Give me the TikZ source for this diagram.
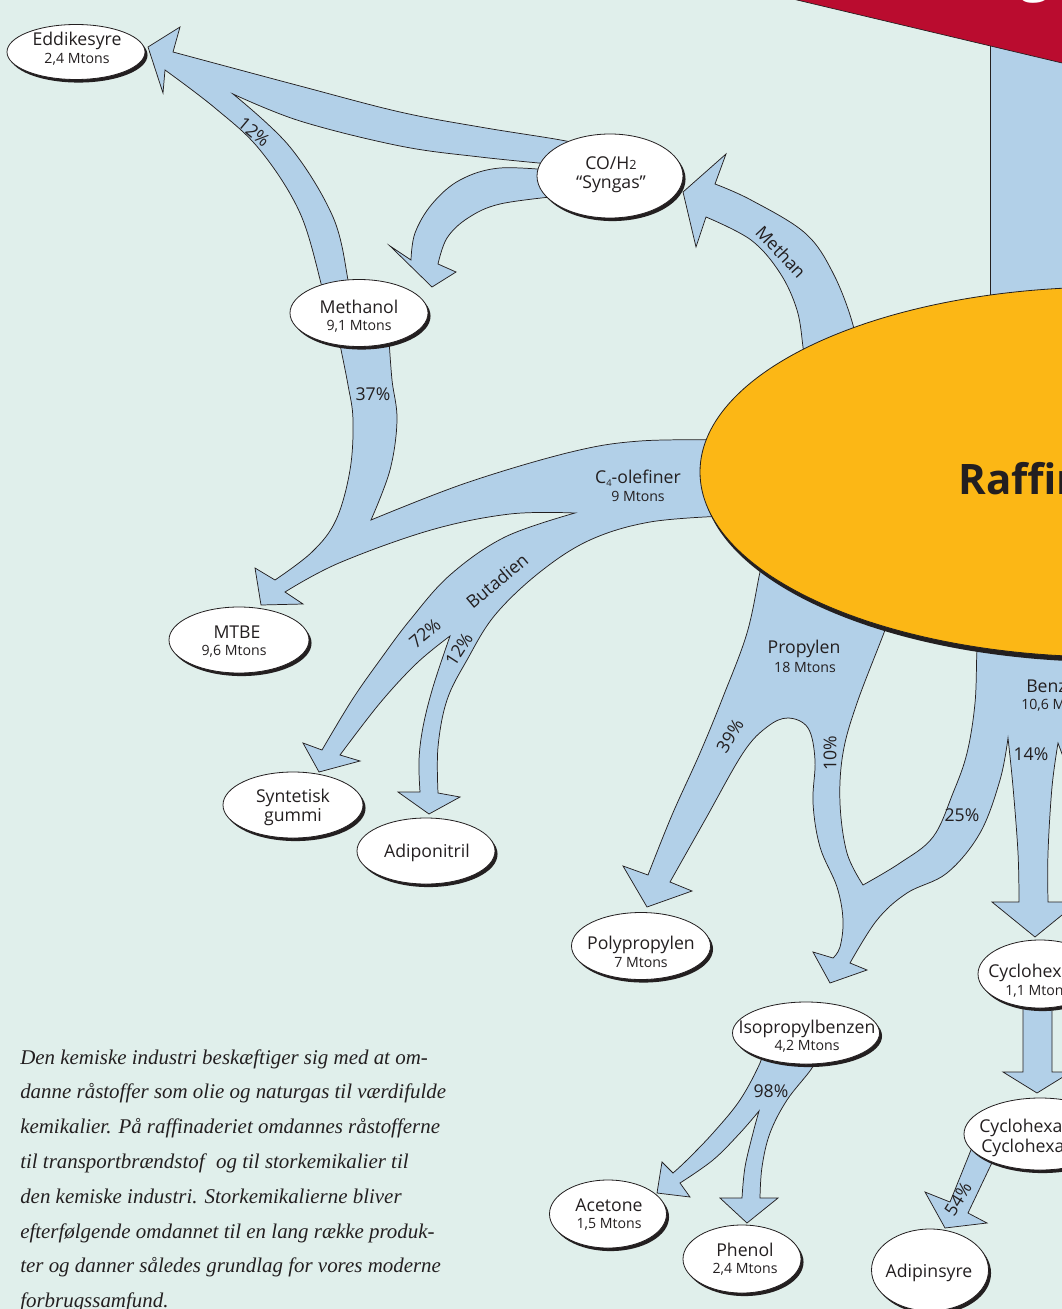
\documentclass[tikz,border=0pt]{standalone}
\usepackage{fontspec}
\setmainfont{Open Sans}
\newfontfamily\parafont{Liberation Serif}
\usetikzlibrary{shapes.geometric,shadows}
\definecolor{bg}{RGB}{224,239,235}
\definecolor{flow}{RGB}{178,208,232}
\definecolor{raff}{RGB}{252,183,21}
\definecolor{topred}{RGB}{186,12,47}
\definecolor{ink}{RGB}{35,31,32}
\newcommand\bigtxt{\fontsize{13.25}{15}\selectfont}
\newcommand\smalltxt{\fontsize{10.6}{12}\selectfont}
\newcommand\raftxt{\bfseries\fontsize{31.5}{36}\selectfont}
\newcommand\titletxt{\bfseries\fontsize{40}{44}\selectfont}
\newcommand\paratxt{\parafont\itshape\fontsize{15.7}{26}\selectfont}
\begin{document}
\begin{tikzpicture}[x=0.75pt,y=-0.75pt,
  flowshape/.style={fill=flow,draw=ink,line width=0.55pt,line join=miter,miter limit=25},
  prod/.style={ellipse,draw=ink,fill=white,line width=0.6pt,inner sep=0pt,
    drop shadow={shadow xshift=1.9pt,shadow yshift=-2.3pt,fill=ink,opacity=1}},
  bigt/.style={inner sep=0pt,anchor=base,text=ink,font=\bigtxt},
  smallt/.style={inner sep=0pt,anchor=base,text=ink,font=\smalltxt},
  flowlbl/.style={inner sep=0pt,text=ink,font=\bigtxt},
  paraline/.style={inner sep=0pt,anchor=base west,text=ink,font=\paratxt}]
\useasboundingbox (0,0) rectangle (1062,1309);
\clip (0,0) rectangle (1062,1309);
\fill[bg] (-5,-5) rectangle (1070,1315);

% top right bands
\fill[flow] (990,20) rectangle (1100,420);
\draw[ink,line width=0.6pt] (990,40) -- (990,420);
\fill[topred] (785,-10) -- (1100,-10) -- (1100,72) -- (785,-2.85) -- cycle;
\draw[ink,line width=0.5pt] (785,-2.85) -- (1100,72);
\node[text=white,font=\titletxt,anchor=base,inner sep=0pt] (titleg) at (1036,-9) {g};

% S1: Syngas + Methanol -> Eddikesyre
\filldraw[flowshape]
  plot[smooth,tension=0.6] coordinates {(585,145) (555,139) (480,127) (400,112) (300,86) (173,52)}
  -- (180,27) -- (148,47) -- (163,93) -- (165,70)
  -- plot[smooth,tension=0.6] coordinates {(165,70) (215,108) (260,150) (300,213) (322,287) (325,300)}
  -- (346,300)
  -- plot[smooth,tension=0.6] coordinates {(348,290) (348,280) (333,217) (290,147) (233,94)}
  -- plot[smooth,tension=0.6] coordinates {(233,94) (300,121) (400,146) (480,157) (560,165)}
  -- cycle;

% S2: Syngas -> Methanol
\filldraw[flowshape]
  plot[smooth,tension=0.6] coordinates {(560,171) (500,168) (460,180) (432,204) (415,233) (411,260)}
  -- (390,246) -- (432,287) -- (456,272) -- (438,264)
  -- plot[smooth,tension=0.6] coordinates {(438,264) (447,238) (468,218) (500,204) (560,196)}
  -- cycle;

% S3: Methan
\filldraw[flowshape]
  plot[smooth,tension=0.6] coordinates {(805,365) (803,347) (797,310) (780,273) (751,240) (706,217)}
  -- (696,247) -- (683,192) -- (726,154) -- (715,184)
  -- plot[smooth,tension=0.6] coordinates {(715,184) (751,200) (805,233) (833,273) (853,325) (858,365)}
  -- cycle;

% S4: C4-olefiner + Methanol 37%
\filldraw[flowshape]
  plot[smooth,tension=0.6] coordinates {(339,340) (348,385) (353,420) (350,470) (336,520) (312,552) (275,580)}
  -- (255,568) -- (261,605) -- (303,604) -- (285,592)
  -- plot[smooth,tension=0.6] coordinates {(285,592) (339,563) (431,530) (510,514) (575,513)}
  -- plot[smooth,tension=0.6] coordinates {(575,513) (505,537) (450,575) (410,620) (380,660) (352,700) (322,750)}
  -- (303,743) -- (319,772) -- (360,761) -- (340,755)
  -- plot[smooth,tension=0.6] coordinates {(340,755) (380,703) (417,663) (450,636)}
  -- plot[smooth,tension=0.6] coordinates {(450,636) (433,687) (423,727) (419,760) (420,792)}
  -- (398,792) -- (429,814) -- (460,797) -- (438,793)
  -- plot[smooth,tension=0.6] coordinates {(438,793) (438,747) (447,700) (467,660) (495,615) (540,572) (590,540) (650,522) (725,516)}
  -- (725,440)
  -- plot[smooth,tension=0.6] coordinates {(725,440) (640,441) (571,452) (466,483) (371,520)}
  -- plot[smooth,tension=0.6] coordinates {(371,520) (390,470) (397,420) (392,380) (389,340)}
  -- cycle;

% S5: Propylen + Benzen
\filldraw[flowshape]
  plot[smooth,tension=0.6] coordinates {(765,555) (760,572) (747,633) (723,697) (700,753) (672,815) (648,875)}
  -- (623,866) -- (647,907) -- (692,891) -- (670,882)
  -- plot[smooth,tension=0.6] coordinates {(670,882) (705,820) (743,753) (767,727) (788,718) (808,728) (815,760) (813,803) (820,847) (837,887) (843,920) (840,947) (833,958)}
  -- (813,952) -- (830,983) -- (867,970) -- (850,963)
  -- plot[smooth,tension=0.6] coordinates {(850,963) (877,920) (907,893) (947,873) (980,833) (1000,780) (1008,738)}
  -- plot[smooth,tension=0.6] coordinates {(1008,738) (1013,787) (1018,853) (1019,902)}
  -- (992,902) -- (1035,937) -- (1078,902) -- (1048,902)
  -- plot[smooth,tension=0.6] coordinates {(1048,902) (1048,853) (1052,787) (1058,743)}
  -- (1090,830) -- (1120,830) -- (1120,600) -- (980,600)
  -- plot[smooth,tension=0.6] coordinates {(980,630) (977,650) (975,703) (967,753) (953,793) (933,837) (900,863) (863,885)}
  -- plot[smooth,tension=0.6] coordinates {(863,885) (847,853) (840,803) (843,753) (857,703) (885,630) (890,612)}
  -- cycle;

% S6: Isopropylbenzen -> Acetone, Phenol
\filldraw[flowshape]
  plot[smooth,tension=0.6] coordinates {(762,1050) (760,1063) (740,1100) (713,1133) (687,1160) (673,1173)}
  -- (662,1162) -- (657,1193) -- (690,1197) -- (680,1183)
  -- plot[smooth,tension=0.6] coordinates {(680,1183) (713,1160) (740,1133) (759,1111)}
  -- plot[smooth,tension=0.6] coordinates {(759,1111) (753,1133) (745,1167) (742,1198)}
  -- (720,1198) -- (747,1223) -- (778,1198) -- (760,1198)
  -- plot[smooth,tension=0.6] coordinates {(760,1198) (762,1167) (770,1133) (787,1100) (812,1068) (815,1055)}
  -- cycle;

% S7: Cyclohexan -> Cyclohexanol
\filldraw[flowshape] (1023,1000) -- (1023,1072) -- (1003,1072) -- (1037,1093) -- (1071,1072) -- (1052,1072) -- (1052,1000) -- cycle;

% S8: Cyclohexanol -> Adipinsyre
\filldraw[flowshape] (975,1140) -- (950,1202) -- (925,1192) -- (945,1228) -- (987,1223) -- (968,1213) -- (998,1150) -- cycle;

% Raffinaderi
\node[ellipse,fill=raff,draw=ink,line width=0.6pt,inner sep=0pt,minimum width=615pt,minimum height=277.5pt,
  drop shadow={shadow xshift=1.5pt,shadow yshift=-3.8pt,fill=ink,opacity=1}] (raff) at (1110,472) {};
\node[inner sep=0pt,anchor=base west,text=ink,font=\raftxt] (raftext) at (958,494) {Raffinaderi};

% product ellipses
\node[prod,minimum width=103.5pt,minimum height=41.25pt] (eddik) at (76,52) {};
\node[prod,minimum width=109.5pt,minimum height=63pt] (syngas) at (610,176) {};
\node[prod,minimum width=103.5pt,minimum height=50.25pt] (methanol) at (359,313) {};
\node[prod,minimum width=105pt,minimum height=49.5pt] (mtbe) at (239,640) {};
\node[prod,minimum width=105pt,minimum height=49.5pt] (gummi) at (293,805) {};
\node[prod,minimum width=103.5pt,minimum height=49.5pt] (adipo) at (426,851) {};
\node[prod,minimum width=104.25pt,minimum height=50.25pt] (polyp) at (641,946) {};
\node[prod,minimum width=110.25pt,minimum height=46.5pt] (isop) at (806,1033) {};
\node[prod,minimum width=87.75pt,minimum height=51pt] (acetone) at (608,1214) {};
\node[prod,minimum width=88.5pt,minimum height=51pt] (phenol) at (742,1259) {};
\node[prod,minimum width=87.75pt,minimum height=61.5pt] (adipin) at (930,1270) {};
\node[prod,minimum width=93pt,minimum height=51pt] (cyclo) at (1040,974) {};
\node[prod,minimum width=114pt,minimum height=54pt] (cycloal) at (1040,1134) {};

% product texts
\node[bigt] (eddikA) at (77,46) {Eddikesyre};
\node[smallt] (eddikB) at (77,64) {2,4 Mtons};
\node[bigt] (syngasA) at (611,170) {CO/H{\fontsize{9.5}{9.5}\selectfont 2}};
\node[bigt] (syngasB) at (611,189) {“Syngas”};
\node[bigt] (methA) at (359,313) {Methanol};
\node[smallt] (methB) at (359,330) {9,1 Mtons};
\node[bigt] (mtbeA) at (237,638) {MTBE};
\node[smallt] (mtbeB) at (234,655) {9,6 Mtons};
\node[bigt] (gummiA) at (293,802) {Syntetisk};
\node[bigt] (gummiB) at (293,821) {gummi};
\node[bigt] (adipoA) at (427,857) {Adiponitril};
\node[bigt] (polypA) at (641,949) {Polypropylen};
\node[smallt] (polypB) at (641,967) {7 Mtons};
\node[bigt] (isopA) at (807,1033) {Isopropylbenzen};
\node[smallt] (isopB) at (807,1050) {4,2 Mtons};
\node[bigt] (acetA) at (609,1211) {Acetone};
\node[smallt] (acetB) at (609,1228) {1,5 Mtons};
\node[bigt] (phenA) at (745,1256) {Phenol};
\node[smallt] (phenB) at (745,1273) {2,4 Mtons};
\node[bigt] (adipinA) at (929,1277) {Adipinsyre};
\node[bigt,anchor=base west] (cycloA) at (988,977) {Cyclohexan};
\node[smallt,anchor=base west] (cycloB) at (1005,995) {1,1 Mtons};
\node[bigt,anchor=base west] (cycloalA) at (979,1132) {Cyclohexanol};
\node[bigt,anchor=base west] (cycloalB) at (981,1152) {Cyclohexanon};

% flow labels
\node[flowlbl,rotate=-40] (l12a) at (254,132) {12\%};
\node[flowlbl] (l37) at (373,394) {37\%};
\node[flowlbl,rotate=-47] (lmethan) at (781,252) {Methan};
\node[bigt] (lc4a) at (638,483) {C\raisebox{-0.35ex}{\fontsize{7}{7}\selectfont 4}-olefiner};
\node[smallt] (lc4b) at (638,501) {9 Mtons};
\node[flowlbl,rotate=40] (lbut) at (497,581) {Butadien};
\node[flowlbl,rotate=40] (l72) at (425,633) {72\%};
\node[flowlbl,rotate=57] (l12b) at (459,649) {12\%};
\node[bigt] (lpropA) at (804,653) {Propylen};
\node[smallt] (lpropB) at (805,672) {18 Mtons};
\node[flowlbl,rotate=58] (l39) at (730,736) {39\%};
\node[flowlbl,rotate=90] (l10) at (830,753) {10\%};
\node[bigt,anchor=base west] (lbenzA) at (1026,692) {Benzen};
\node[smallt,anchor=base west] (lbenzB) at (1021,709) {10,6 Mtons};
\node[flowlbl] (l14) at (1031,754) {14\%};
\node[flowlbl] (l25) at (962,815) {25\%};
\node[flowlbl] (l98) at (771,1091) {98\%};
\node[flowlbl,rotate=58] (l54) at (958,1199) {54\%};

% paragraph
\node[paraline] (p1) at (20,1064) {Den kemiske industri beskæftiger sig med at om-};
\node[paraline] (p2) at (20,1098.8) {danne råstoffer som olie og naturgas til værdifulde};
\node[paraline] (p3) at (20,1133.6) {kemikalier. På raffinaderiet omdannes råstofferne};
\node[paraline] (p4) at (20,1168.4) {til transportbrændstof\hspace{0.3em} og til storkemikalier til};
\node[paraline] (p5) at (20,1203.2) {den kemiske industri. Storkemikalierne bliver};
\node[paraline] (p6) at (20,1238) {efterfølgende omdannet til en lang række produk-};
\node[paraline] (p7) at (20,1272.8) {ter og danner således grundlag for vores moderne};
\node[paraline] (p8) at (20,1307.6) {forbrugssamfund.};
\end{tikzpicture}
\end{document}
